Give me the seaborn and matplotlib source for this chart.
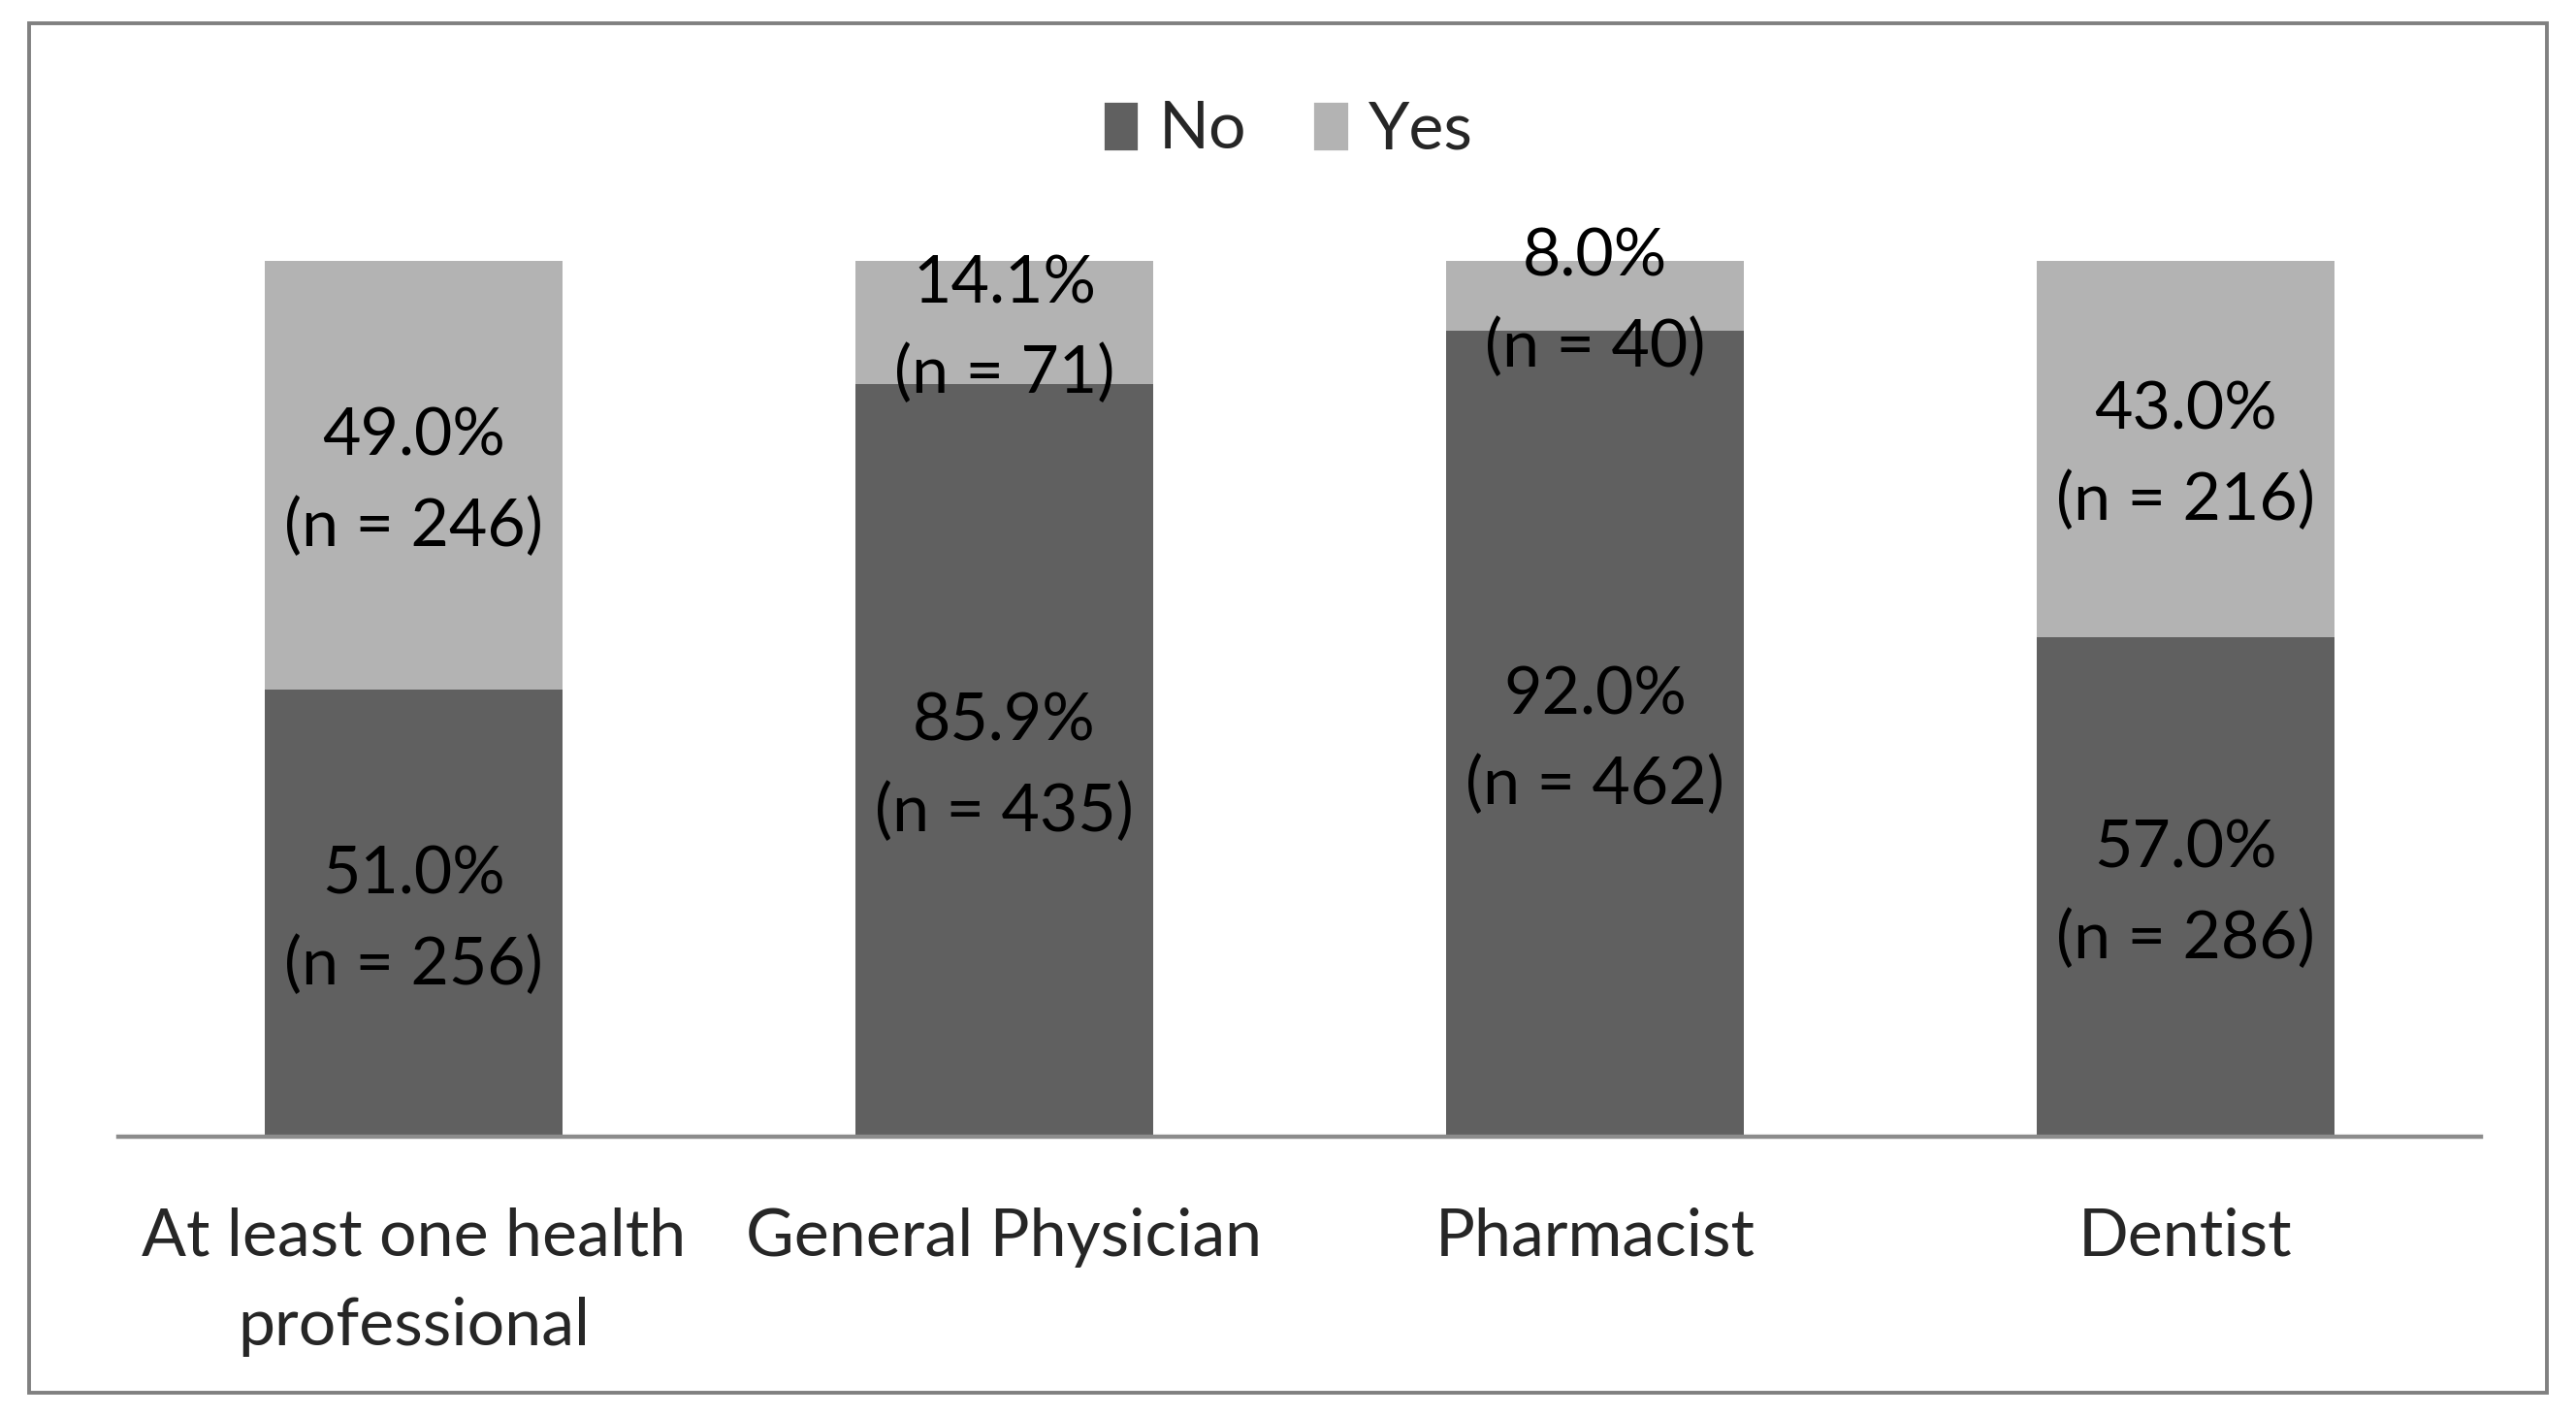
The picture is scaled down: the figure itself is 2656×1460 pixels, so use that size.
import numpy as np
import pandas as pd
import seaborn as sns
import matplotlib
matplotlib.use('Agg')
import matplotlib.pyplot as plt
from matplotlib.patches import Patch, Rectangle

categories = ['At least one health\nprofessional', 'General Physician', 'Pharmacist', 'Dentist']
no_pct = [51.0, 85.9, 92.0, 57.0]
yes_pct = [49.0, 14.1, 8.0, 43.0]
no_n = [256, 435, 462, 286]
yes_n = [246, 71, 40, 216]

NO_COLOR = '#606060'
YES_COLOR = '#b3b3b3'

sns.set_style('white')
plt.rcParams['font.family'] = ['Lato', 'DejaVu Sans']

df = pd.DataFrame({'category': categories, 'No': no_pct, 'Yes': yes_pct})
df['total'] = df['No'] + df['Yes']

fig = plt.figure(figsize=(13.28, 7.3), dpi=200)
ax = fig.add_axes([0.0459, 0.197, 0.9172, 0.619])

# stacked: full bar in Yes colour, No segment drawn over it
sns.barplot(data=df, x='category', y='total', color=YES_COLOR, width=0.505,
            saturation=1, linewidth=0, ax=ax)
sns.barplot(data=df, x='category', y='No', color=NO_COLOR, width=0.505,
            saturation=1, linewidth=0, ax=ax)

fs = 24.5
nudge = 0.8  # labels sit a touch below the segment middle
for i in range(len(categories)):
    ax.text(i, no_pct[i] / 2 - nudge, f'{no_pct[i]:.1f}%\n(n = {no_n[i]})',
            ha='center', va='center', fontsize=fs, color='black', linespacing=1.6)
    ax.text(i, no_pct[i] + yes_pct[i] / 2 - nudge, f'{yes_pct[i]:.1f}%\n(n = {yes_n[i]})',
            ha='center', va='center', fontsize=fs, color='black', linespacing=1.6)

ax.set_xlim(-0.5, 3.5)
ax.set_ylim(0, 100)
ax.set_xlabel('')
ax.set_ylabel('')
ax.set_yticks([])
ax.tick_params(axis='x', length=0, pad=26, labelsize=fs)
for lbl in ax.get_xticklabels():
    lbl.set_linespacing(1.6)
for s in ['top', 'right', 'left']:
    ax.spines[s].set_visible(False)
ax.spines['bottom'].set_color('#8c8c8c')
ax.spines['bottom'].set_linewidth(1.6)

handles = [Patch(facecolor=NO_COLOR, label='No'), Patch(facecolor=YES_COLOR, label='Yes')]
fig.legend(handles=handles, loc='center', bbox_to_anchor=(0.5, 0.908), ncol=2,
           frameon=False, fontsize=fs, handlelength=0.55, handleheight=0.8,
           handletextpad=0.3, columnspacing=1.0)

fig.patches.append(Rectangle((0.0113, 0.0164), 0.9774, 0.967, transform=fig.transFigure,
                             fill=False, edgecolor='#808080', linewidth=1.4))

fig.savefig('out.png', dpi=200)
